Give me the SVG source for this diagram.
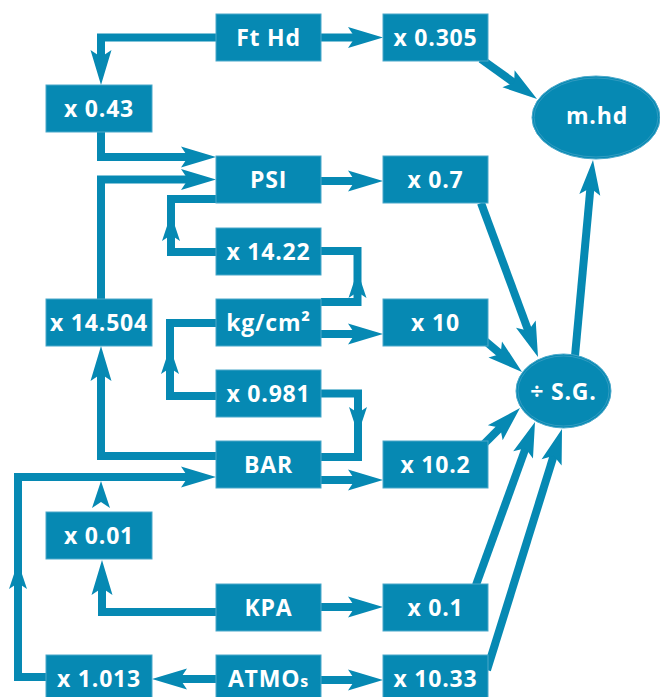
<svg xmlns="http://www.w3.org/2000/svg" xmlns:xlink="http://www.w3.org/1999/xlink" width="660" height="697" viewBox="0 0 660 697">
<style>
.bx{fill:#0689b3;stroke:#4aa8ca;stroke-width:1}
.el{fill:#0689b3;stroke:#4aa8ca;stroke-width:1}
.eli{fill:none;stroke:#3c9fc4;stroke-width:0.8}
.t{fill:#ffffff;font-family:"Open Sans","DejaVu Sans",sans-serif;font-weight:bold;font-size:23px;letter-spacing:0.8px;text-anchor:middle}
.c{fill:none;stroke:#0689b3;stroke-width:8;stroke-linejoin:miter;stroke-linecap:butt}
.a{fill:#0689b3}
</style>
<defs>
<path id="ah" d="M0,0 L-35,-10.5 L-28,0 L-35,10.5 Z"/>
<path id="am" d="M0,0 L-27,-9 L-21,0 L-27,9 Z"/>
</defs>
<rect width="660" height="697" fill="#ffffff"/>
<g id="connectors">
<path class="c" d="M321,37.5 H357"/>
<path class="c" d="M216,37.5 H101 V59"/>
<path class="c" d="M481,59 L515.8,83.9"/>
<path class="c" d="M101,132 V157 H190"/>
<path class="c" d="M101,299 V179.5 H190"/>
<path class="c" d="M321,181 H357"/>
<path class="c" d="M216,252 H171 V199 H216"/>
<path class="c" d="M321,302 H357.5 V251 H321"/>
<path class="c" d="M321,334 H357"/>
<path class="c" d="M216,396 H170 V323 H216"/>
<path class="c" d="M321,393.5 H358 V457 H321"/>
<path class="c" d="M321,480 H357"/>
<path class="c" d="M216,456 H101 V372"/>
<path class="c" d="M46,677 H18 V477 H190"/>
<path class="c" d="M216,612 H102 V586"/>
<path class="c" d="M321,607 H357"/>
<path class="c" d="M216,679 H178"/>
<path class="c" d="M321,680 H357"/>
<path class="c" d="M481,203 L529,332.6"/>
<path class="c" d="M484,340 L502.1,355.3"/>
<path class="c" d="M484,444 L501.6,426.4"/>
<path class="c" d="M476,585 L526.2,446.5"/>
<path class="c" d="M487,670 L554.3,453.8"/>
<path class="c" d="M575,356 L590.6,185.9"/>
<use class="a" href="#ah" transform="translate(383,37.5)"/>
<use class="a" href="#ah" transform="translate(101,85) rotate(90)"/>
<use class="a" href="#ah" transform="translate(537,99) rotate(35.5)"/>
<use class="a" href="#ah" transform="translate(216,157)"/>
<use class="a" href="#ah" transform="translate(216,179.5)"/>
<use class="a" href="#ah" transform="translate(383,181)"/>
<use class="a" href="#am" transform="translate(171,214) rotate(-90)"/>
<use class="a" href="#am" transform="translate(357.5,271) rotate(-90)"/>
<use class="a" href="#ah" transform="translate(383,334)"/>
<use class="a" href="#am" transform="translate(170,347) rotate(-90)"/>
<use class="a" href="#am" transform="translate(358,434) rotate(90)"/>
<use class="a" href="#ah" transform="translate(383,480)"/>
<use class="a" href="#ah" transform="translate(101,346) rotate(-90)"/>
<use class="a" href="#am" transform="translate(18,562) rotate(-90)"/>
<use class="a" href="#ah" transform="translate(216,477)"/>
<use class="a" href="#am" transform="translate(101,481) rotate(-90)"/>
<use class="a" href="#ah" transform="translate(102,560) rotate(-90)"/>
<use class="a" href="#ah" transform="translate(383,607)"/>
<use class="a" href="#ah" transform="translate(152,679) rotate(180)"/>
<use class="a" href="#ah" transform="translate(383,680)"/>
<use class="a" href="#ah" transform="translate(538,357) rotate(69.7)"/>
<use class="a" href="#ah" transform="translate(522,372) rotate(40.1)"/>
<use class="a" href="#ah" transform="translate(520,408) rotate(-45)"/>
<use class="a" href="#ah" transform="translate(535,422) rotate(-70.1)"/>
<use class="a" href="#ah" transform="translate(562,429) rotate(-72.7)"/>
<use class="a" href="#ah" transform="translate(593,160) rotate(-84.75)"/>
</g>
<g id="ft-hd"><rect class="bx" x="216" y="14" width="105" height="47"/><text class="t" x="268.5" y="45.5">Ft Hd</text></g>
<g id="x0305"><rect class="bx" x="383" y="14" width="105" height="47"/><text class="t" x="435.5" y="45.5">x 0.305</text></g>
<g id="x043"><rect class="bx" x="46" y="85" width="106" height="47"/><text class="t" x="99" y="116.5">x 0.43</text></g>
<g id="psi"><rect class="bx" x="216" y="156" width="105" height="47"/><text class="t" x="268.5" y="187.5">PSI</text></g>
<g id="x07"><rect class="bx" x="383" y="156" width="105" height="47"/><text class="t" x="435.5" y="187.5">x 0.7</text></g>
<g id="x1422"><rect class="bx" x="216" y="228" width="105" height="47"/><text class="t" x="268.5" y="259.5">x 14.22</text></g>
<g id="kgcm2"><rect class="bx" x="216" y="299" width="105" height="47"/><text class="t" x="268.5" y="330.5">kg/cm²</text></g>
<g id="x14504"><rect class="bx" x="46" y="299" width="106" height="47"/><text class="t" x="99" y="330.5">x 14.504</text></g>
<g id="x10"><rect class="bx" x="383" y="299" width="105" height="47"/><text class="t" x="435.5" y="330.5">x 10</text></g>
<g id="x0981"><rect class="bx" x="216" y="370" width="105" height="47"/><text class="t" x="268.5" y="401.5">x 0.981</text></g>
<g id="bar"><rect class="bx" x="216" y="441" width="105" height="47"/><text class="t" x="268.5" y="472.5">BAR</text></g>
<g id="x102"><rect class="bx" x="383" y="441" width="105" height="47"/><text class="t" x="435.5" y="472.5">x 10.2</text></g>
<g id="x001"><rect class="bx" x="46" y="512" width="106" height="47"/><text class="t" x="99" y="543.5">x 0.01</text></g>
<g id="kpa"><rect class="bx" x="216" y="584" width="105" height="47"/><text class="t" x="268.5" y="615.5">KPA</text></g>
<g id="x01"><rect class="bx" x="383" y="584" width="105" height="47"/><text class="t" x="435.5" y="615.5">x 0.1</text></g>
<g id="x1013"><rect class="bx" x="46" y="655" width="106" height="47"/><text class="t" x="99" y="686.5">x 1.013</text></g>
<g id="atmos"><rect class="bx" x="216" y="655" width="105" height="47"/><text class="t" x="268.5" y="686.5">ATMO<tspan font-size="16px">s</tspan></text></g>
<g id="x1033"><rect class="bx" x="383" y="655" width="105" height="47"/><text class="t" x="435.5" y="686.5">x 10.33</text></g>
<g id="mhd"><ellipse class="el" cx="596" cy="117.5" rx="64" ry="41.5"/><ellipse class="eli" cx="596" cy="117.5" rx="62" ry="39.5"/><text class="t" x="597" y="123.5">m.hd</text></g>
<g id="sg"><ellipse class="el" cx="563.5" cy="391" rx="47.5" ry="37"/><ellipse class="eli" cx="563.5" cy="391" rx="45.5" ry="35"/><text class="t" x="563.5" y="399.5">÷ S.G.</text></g>
</svg>
